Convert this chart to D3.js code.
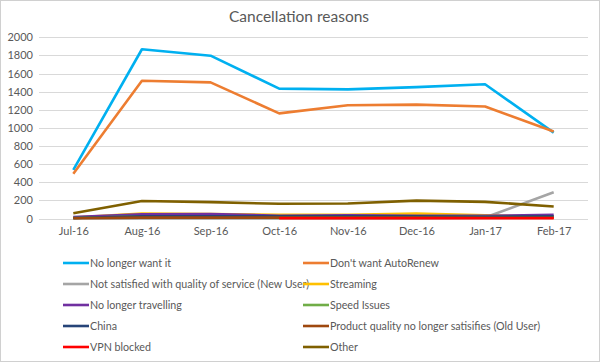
<!DOCTYPE html>
<html lang="en">
<head>
    <meta charset="UTF-8">
    <title>Cancellation reasons</title>
    <script src="https://cdn.jsdelivr.net/npm/d3@7"></script>
    <style>
        body { margin: 0; background: white; }
        svg { display: block; }
        text { font-family: Lato, "Open Sans", sans-serif; fill: #595959; }
        .grid line { stroke: #d9d9d9; stroke-width: 1; }
        .axis text { font-size: 11px; }
        .legend text { font-size: 10.7px; }
    </style>
</head>
<body>
    <script>
        // data
        const months = ["Jul-16", "Aug-16", "Sep-16", "Oct-16", "Nov-16", "Dec-16", "Jan-17", "Feb-17"];
        const yTicks = [0, 200, 400, 600, 800, 1000, 1200, 1400, 1600, 1800, 2000];

        const noLongerWant = [537, 1868, 1797, 1433, 1425, 1450, 1482, 948];
        const noAutoRenew = [494, 1520, 1502, 1160, 1250, 1257, 1236, 960];
        const notSatisfied = [0, 0, 0, 0, 0, 0, 10, 290];
        const streaming = [10, 55, 50, 40, 40, 55, 35, 20];
        const noTravel = [15, 45, 50, 30, 35, 30, 30, 40];
        const speedIssues = [5, 25, 25, 20, 20, 20, 15, 15];
        const china = [5, 25, 25, 25, 25, 25, 20, 25];
        const productQuality = [3, 10, 10, 10, 10, 10, 8, 8];
        const vpnBlocked = [null, null, null, 3, 3, 3, 3, 3];
        const other = [57, 193, 181, 162, 165, 197, 184, 132];

        const series = [
            { name: "No longer want it", values: noLongerWant, color: "#00b0f0" },
            { name: "Don't want AutoRenew", values: noAutoRenew, color: "#ed7d31" },
            { name: "Not satisfied with quality of service (New User)", values: notSatisfied, color: "#a5a5a5" },
            { name: "Streaming", values: streaming, color: "#ffc000" },
            { name: "No longer travelling", values: noTravel, color: "#7030a0" },
            { name: "Speed Issues", values: speedIssues, color: "#70ad47" },
            { name: "China", values: china, color: "#264478" },
            { name: "Product quality no longer satisifies (Old User)", values: productQuality, color: "#9e480e" },
            { name: "VPN blocked", values: vpnBlocked, color: "#ff0000" },
            { name: "Other", values: other, color: "#7f6000" }
        ];

        const width = 600;
        const height = 362;

        let svg = d3.select("body").append("svg")
            .attr("width", width)
            .attr("height", height);

        // outer border
        svg.append("rect")
            .attr("x", 0.5).attr("y", 0.5)
            .attr("width", width - 1).attr("height", height - 1)
            .attr("fill", "white")
            .attr("stroke", "#d0d0d0");

        // title
        svg.append("text")
            .attr("x", 299)
            .attr("y", 22)
            .attr("text-anchor", "middle")
            .style("font-size", "15.5px")
            .text("Cancellation reasons");

        const x = d3.scalePoint()
            .domain(months)
            .range([39, 588])
            .padding(0.5);

        const y = d3.scaleLinear()
            .domain([0, 2000])
            .range([218.5, 37.3]);

        // gridlines
        svg.append("g")
            .attr("class", "grid")
            .selectAll("line")
            .data(yTicks)
            .enter()
            .append("line")
            .attr("x1", 39).attr("x2", 588)
            .attr("y1", d => Math.round(y(d)) + 0.5)
            .attr("y2", d => Math.round(y(d)) + 0.5);

        // y axis labels
        let yAxis = svg.append("g")
            .attr("class", "axis")
            .attr("transform", "translate(39,0)")
            .call(d3.axisLeft(y).tickValues(yTicks).tickFormat(d3.format("d")).tickSize(0).tickPadding(6));
        yAxis.select(".domain").remove();

        // x axis labels
        let xAxis = svg.append("g")
            .attr("class", "axis")
            .attr("transform", `translate(0,${y(0)})`)
            .call(d3.axisBottom(x).tickSize(0).tickPadding(9));
        xAxis.select(".domain").remove();

        // lines
        const line = d3.line()
            .defined(d => d != null)
            .x((d, i) => x(months[i]))
            .y(d => y(d));

        svg.append("g")
            .selectAll("path")
            .data(series)
            .enter()
            .append("path")
            .attr("d", d => line(d.values))
            .attr("fill", "none")
            .attr("stroke", d => d.color)
            .attr("stroke-width", 2.6)
            .attr("stroke-linejoin", "round");

        // legend, two columns
        let legend = svg.append("g").attr("class", "legend");
        let items = legend.selectAll("g")
            .data(series)
            .enter()
            .append("g")
            .attr("transform", (d, i) => `translate(${i % 2 === 0 ? 63 : 303},${263 + Math.floor(i / 2) * 21})`);
        items.append("line")
            .attr("x1", 0).attr("x2", 26)
            .attr("stroke", d => d.color)
            .attr("stroke-width", 2.6);
        items.append("text")
            .attr("x", 27)
            .attr("dy", "0.35em")
            .text(d => d.name);
    </script>
</body>
</html>
